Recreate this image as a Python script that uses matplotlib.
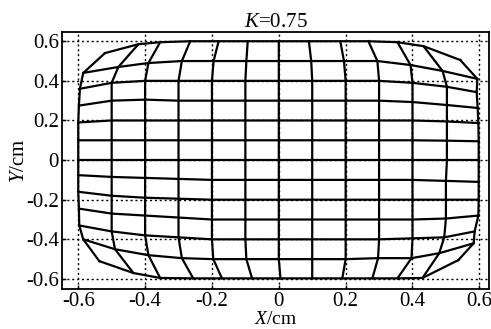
import numpy as np
import matplotlib
matplotlib.use("Agg")
import matplotlib.pyplot as plt

plt.rcParams['font.family'] = ['Liberation Serif', 'DejaVu Serif']
plt.rcParams['mathtext.fontset'] = 'custom'
plt.rcParams['mathtext.rm'] = 'Liberation Serif'
plt.rcParams['mathtext.it'] = 'Liberation Serif:italic'
plt.rcParams['axes.unicode_minus'] = False

# grid node positions
# x of each mesh column (left -> right), listed from top row to bottom row
x_by_col = [
    [-0.52, -0.585, -0.595, -0.598, -0.6, -0.6, -0.6, -0.6, -0.6, -0.598, -0.597, -0.585, -0.537],
    [-0.42, -0.48, -0.50, -0.50, -0.50, -0.50, -0.50, -0.50, -0.50, -0.50, -0.50, -0.49, -0.435],
    [-0.355, -0.39, -0.40, -0.40, -0.40, -0.40, -0.40, -0.40, -0.40, -0.40, -0.40, -0.39, -0.355],
    [-0.265, -0.29, -0.30, -0.30, -0.30, -0.30, -0.30, -0.30, -0.30, -0.30, -0.30, -0.29, -0.256],
    [-0.18, -0.195, -0.20, -0.20, -0.20, -0.20, -0.20, -0.20, -0.20, -0.20, -0.20, -0.196, -0.17],
    [-0.093, -0.097, -0.10, -0.10, -0.10, -0.10, -0.10, -0.10, -0.10, -0.10, -0.10, -0.097, -0.08],
    [0.0, 0.0, 0.0, 0.0, 0.0, 0.0, 0.0, 0.0, 0.0, 0.0, 0.0, 0.0, 0.005],
    [0.09, 0.097, 0.10, 0.10, 0.10, 0.10, 0.10, 0.10, 0.10, 0.10, 0.10, 0.10, 0.10],
    [0.184, 0.195, 0.20, 0.20, 0.20, 0.20, 0.20, 0.20, 0.20, 0.20, 0.20, 0.20, 0.19],
    [0.268, 0.295, 0.30, 0.30, 0.30, 0.30, 0.30, 0.30, 0.30, 0.30, 0.30, 0.297, 0.28],
    [0.355, 0.394, 0.40, 0.40, 0.40, 0.40, 0.40, 0.40, 0.40, 0.40, 0.40, 0.397, 0.355],
    [0.433, 0.49, 0.503, 0.503, 0.503, 0.503, 0.503, 0.50, 0.50, 0.50, 0.495, 0.48, 0.43],
    [0.543, 0.594, 0.592, 0.595, 0.597, 0.598, 0.598, 0.598, 0.598, 0.597, 0.586, 0.583, 0.537],
]
# y of each mesh row (top -> bottom), listed from left column to right column
y_by_row = [
    [0.54, 0.585, 0.595, 0.60, 0.60, 0.60, 0.60, 0.60, 0.60, 0.60, 0.595, 0.575, 0.505],
    [0.44, 0.47, 0.49, 0.50, 0.50, 0.50, 0.50, 0.50, 0.50, 0.50, 0.48, 0.45, 0.41],
    [0.36, 0.39, 0.40, 0.40, 0.40, 0.40, 0.40, 0.40, 0.40, 0.40, 0.39, 0.37, 0.343],
    [0.275, 0.30, 0.305, 0.30, 0.30, 0.30, 0.30, 0.30, 0.30, 0.30, 0.293, 0.278, 0.263],
    [0.19, 0.20, 0.20, 0.20, 0.20, 0.20, 0.20, 0.20, 0.20, 0.20, 0.20, 0.195, 0.187],
    [0.10, 0.10, 0.10, 0.10, 0.10, 0.10, 0.10, 0.10, 0.10, 0.10, 0.10, 0.098, 0.095],
    [0.0, 0.0, 0.0, 0.0, 0.0, 0.0, 0.0, 0.0, 0.0, 0.0, 0.0, 0.0, 0.0],
    [-0.076, -0.085, -0.09, -0.095, -0.10, -0.10, -0.10, -0.10, -0.10, -0.10, -0.10, -0.105, -0.11],
    [-0.16, -0.18, -0.19, -0.195, -0.20, -0.20, -0.20, -0.20, -0.20, -0.20, -0.20, -0.20, -0.20],
    [-0.245, -0.27, -0.28, -0.29, -0.30, -0.30, -0.30, -0.30, -0.30, -0.30, -0.30, -0.295, -0.28],
    [-0.33, -0.36, -0.38, -0.39, -0.40, -0.40, -0.40, -0.40, -0.40, -0.40, -0.395, -0.39, -0.36],
    [-0.40, -0.45, -0.48, -0.495, -0.50, -0.50, -0.50, -0.50, -0.50, -0.495, -0.495, -0.47, -0.42],
    [-0.51, -0.57, -0.595, -0.597, -0.597, -0.597, -0.597, -0.597, -0.597, -0.597, -0.597, -0.595, -0.505],
]
ticks = [-0.6, -0.4, -0.2, 0, 0.2, 0.4, 0.6]
tick_labels = ['-0.6', '-0.4', '-0.2', '0', '0.2', '0.4', '0.6']

X = np.array(x_by_col).T   # rows x cols
Y = np.array(y_by_row)

fig = plt.figure(figsize=(4.91, 3.29), dpi=100)
ax = fig.add_axes([0.126, 0.122, 0.87, 0.781])

for r in range(X.shape[0]):
    ax.plot(X[r, :], Y[r, :], color='black', lw=1.6)
for c in range(X.shape[1]):
    ax.plot(X[:, c], Y[:, c], color='black', lw=1.6)

ax.set_xlim(-0.649, 0.629)
ax.set_ylim(-0.65, 0.647)
ax.set_xticks(ticks)
ax.set_xticklabels(tick_labels)
ax.set_yticks(ticks)
ax.set_yticklabels(tick_labels)
ax.grid(True, color='black', linestyle=(0, (1.5, 2)), lw=1.0)
ax.tick_params(direction='in', length=3, labelsize=15, pad=2, width=1)
for s in ax.spines.values():
    s.set_linewidth(1.3)

ax.set_title('$K$=0.75', fontsize=15, pad=1)
ax.set_xlabel('$X$/cm', fontsize=14, labelpad=0.5)
ax.set_ylabel('$Y$/cm', fontsize=15, labelpad=-2)

fig.savefig('out.png', dpi=100)
